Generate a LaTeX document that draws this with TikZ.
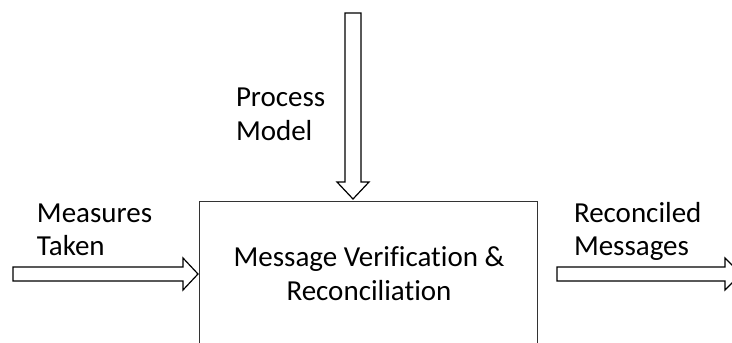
\documentclass[tikz,border=0pt]{standalone}
\usepackage{fontspec}
\setmainfont[Ligatures={NoCommon}]{Carlito}
\begin{document}
\begin{tikzpicture}[x=1pt,y=-1pt,
  lbl/.style={inner sep=0pt,outer sep=0pt,font=\fontsize{29}{34}\selectfont,text=black},
  blockarrow/.style={draw=black,line width=1.2pt,fill=white,line join=miter}]
\useasboundingbox (0,0) rectangle (732,343);
\clip (0,0) rectangle (732,343);
% main box
\node[draw=black!80,line width=1.2pt,minimum width=338pt,minimum height=150pt,anchor=north west,inner sep=0pt] (box) at (199,201) {};
% top arrow
\draw[blockarrow] (345,13) -- (361,13) -- (361,182) -- (369,182) -- (353,199) -- (337,182) -- (345,182) -- cycle;
% left arrow
\draw[blockarrow] (13,267) -- (183,267) -- (183,258) -- (198,274) -- (183,290) -- (183,281) -- (13,281) -- cycle;
% right arrow
\draw[blockarrow] (557,267) -- (725,267) -- (725,258) -- (741,274) -- (725,290) -- (725,281) -- (557,281) -- cycle;
% labels
\node[lbl,anchor=base west] (m1) at (37,222) {Measures};
\node[lbl,anchor=base west] (m2) at (37,255) {Taken};
\node[lbl,anchor=base west] (p1) at (236,106) {Process};
\node[lbl,anchor=base west] (p2) at (236,140) {Model};
\node[lbl,anchor=base] (c1) at (369,266) {Message Verification \&};
\node[lbl,anchor=base] (c2) at (369,300) {Reconciliation};
\node[lbl,anchor=base west] (r1) at (574,222) {Reconciled};
\node[lbl,anchor=base west] (r2) at (574,255) {Messages};
\end{tikzpicture}
\end{document}
